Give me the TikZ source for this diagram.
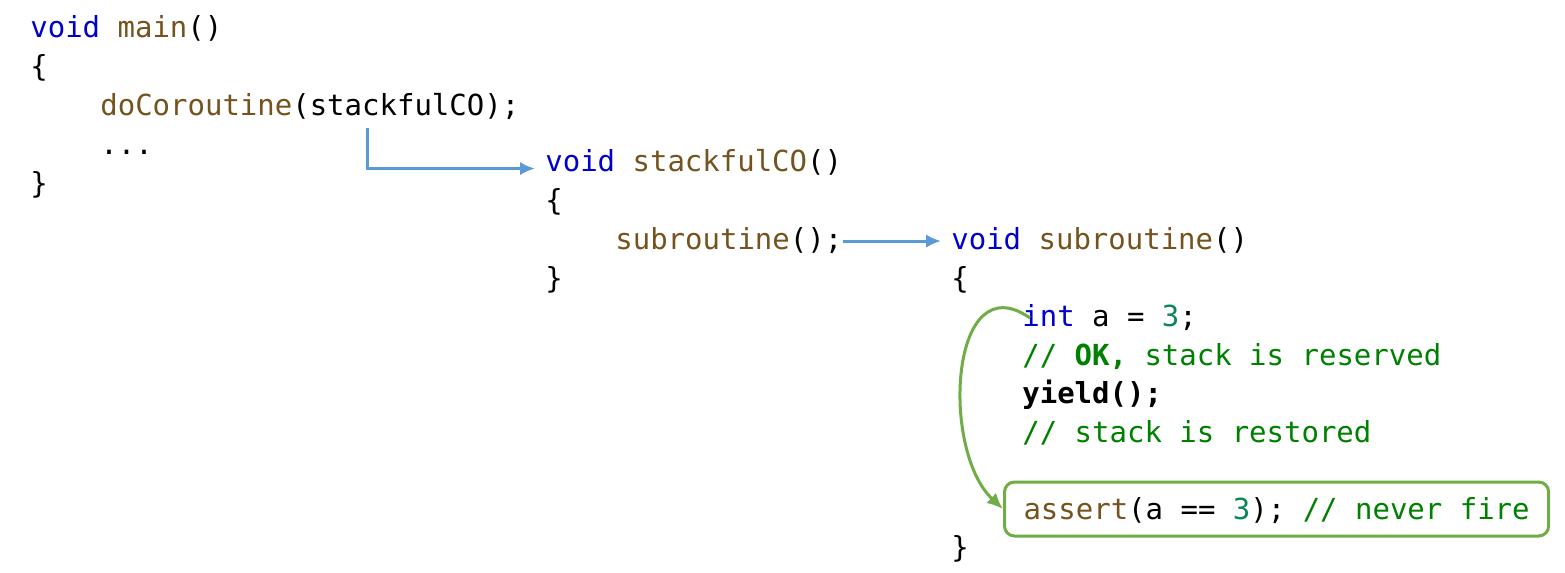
\documentclass[tikz,border=0pt]{standalone}
\usepackage{fontspec}
\setmonofont{DejaVu Sans Mono}
\usepackage{tikz}
\usetikzlibrary{arrows.meta}

\definecolor{kwblue}{RGB}{0,0,205}
\definecolor{fnbrown}{RGB}{116,83,31}
\definecolor{cmgreen}{RGB}{0,128,0}
\definecolor{nrteal}{RGB}{9,134,88}
\definecolor{arrblue}{RGB}{91,155,213}
\definecolor{boxgreen}{RGB}{112,173,71}

\newcommand{\kwd}[1]{\textcolor{kwblue}{#1}}
\newcommand{\fnc}[1]{\textcolor{fnbrown}{#1}}
\newcommand{\cmt}[1]{\textcolor{cmgreen}{#1}}
\newcommand{\nmb}[1]{\textcolor{nrteal}{#1}}

\begin{document}
\begin{tikzpicture}[x=0.02cm,y=-0.02cm,
    code/.style={anchor=base west,inner sep=0pt,text height=0.42em,text depth=0.14em,
        font=\ttfamily\fontsize{16.5}{20}\selectfont},
    call/.style={arrblue,line width=0.06cm,-{Latex[length=0.3cm,width=0.27cm]},shorten >=0.2cm},
    back/.style={boxgreen,line width=0.06cm,-{Latex[length=0.32cm,width=0.28cm]}}]

\useasboundingbox (0,0) rectangle (1565,572);

\node[code] (m1) at (30,37) {\kwd{void} \fnc{main}()};
\node[code] (m2) at (30,76) {\{};
\node[code] (m3) at (100,115) {\fnc{doCoroutine}(stackfulCO);};
\node[code] (m4) at (100,154) {...};
\node[code] (m5) at (30,193) {\}};

\node[code] (sf) at (545,171) {\kwd{void} \fnc{stackfulCO}()};
\node[code] (s2) at (545,210) {\{};
\node[code] (sub) at (615,249) {\fnc{subroutine}();};
\node[code] (s4) at (545,288) {\}};

\node[code] (sr) at (951,249) {\kwd{void} \fnc{subroutine}()};
\node[code] (r2) at (951,288) {\{};
\node[code] (ia) at (1022,326) {\kwd{int} a = \nmb{3};};
\node[code] (ok) at (1022,365) {\cmt{// \textbf{OK,} stack is reserved}};
\node[code] (yd) at (1022,403) {\textbf{yield();}};
\node[code] (rs) at (1022,442) {\cmt{// stack is restored}};
\node[code,draw=boxgreen,line width=0.06cm,rounded corners=0.2cm,inner xsep=0.38cm,
    inner ysep=0pt,text height=0.74cm,text depth=0.34cm] (as) at (1003,519)
    {\fnc{assert}(a == \nmb{3}); \cmt{// never fire}};
\node[code] (r8) at (951,557) {\}};

\coordinate (arg) at (367,128);
\coordinate (top) at (1030,318);

\draw[call] (arg) |- (sf.west);
\draw[call] ([yshift=0.11cm]sub.east) -- ([yshift=0.11cm]sr.west);
\draw[back] (top) .. controls (950,262) and (940,450) .. (as.west);

\end{tikzpicture}
\end{document}
